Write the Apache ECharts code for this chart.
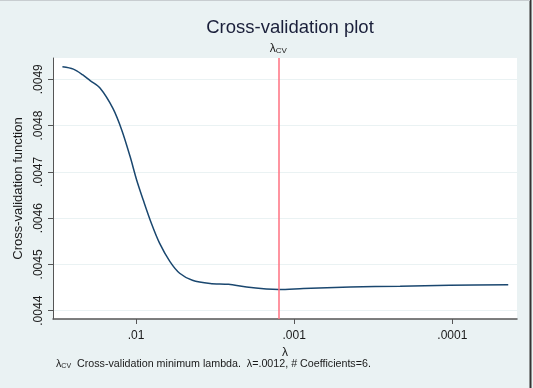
<!DOCTYPE html>
<html>
<head>
<meta charset="utf-8">
<script src="https://cdn.jsdelivr.net/npm/echarts@6/dist/echarts.min.js"></script>
<style>
  html, body { margin: 0; padding: 0; background: #eaf2f3; }
  #chart { width: 533px; height: 388px; }
</style>
</head>
<body>
<div id="chart"></div>
<script>
// lambda grid (decreasing) and the CV function
const lambdas = [0.0292, 0.0249, 0.0218, 0.0195, 0.0169, 0.0140, 0.0123, 0.0109, 0.0099,
  0.0090, 0.0080, 0.0071, 0.0061, 0.0053, 0.0044, 0.0034, 0.0026, 0.0020, 0.0015,
  0.00125, 0.000875, 0.000442, 0.000214, 0.000104, 0.0000443];
const cvValues = [0.004927, 0.004922, 0.004910, 0.004897, 0.004881, 0.004837, 0.004790,
  0.004733, 0.004682, 0.004639, 0.004589, 0.004546, 0.004506, 0.004481, 0.004466,
  0.004459, 0.004457, 0.004451, 0.004447, 0.004446, 0.004448, 0.004451, 0.004453,
  0.004455, 0.004456];
const lambdaCV = 0.00125;
const xTicks = [0.01, 0.001, 0.0001];
const yTicks = [0.0044, 0.0045, 0.0046, 0.0047, 0.0048, 0.0049];

const FONT = 'Liberation Sans, Arial, sans-serif';
const log10 = v => Math.log10(v);
const fmtLambda = v => {
  const s = Math.pow(10, v).toFixed(Math.round(-v));
  return s.replace(/^0/, '');
};

const chart = echarts.init(document.getElementById('chart'));
chart.setOption({
  backgroundColor: '#eaf2f3',
  animation: false,
  textStyle: { fontFamily: FONT },
  title: {
    text: 'Cross-validation plot',
    left: 285, top: 13, textAlign: 'center',
    textStyle: { fontSize: 18.5, fontWeight: 'normal', color: '#1a1f3a', fontFamily: FONT }
  },
  grid: {
    left: 53, top: 58, width: 464, height: 261,
    show: true, backgroundColor: '#ffffff', borderWidth: 0
  },
  xAxis: {
    type: 'value',
    inverse: true,
    min: -4.409, max: -1.475,
    name: 'λ', nameLocation: 'middle', nameGap: 22,
    nameTextStyle: { fontSize: 12, color: '#1a1a1a', fontFamily: FONT },
    axisLine: { lineStyle: { color: '#555', width: 1.5 } },
    axisTick: { show: true, length: 5, lineStyle: { color: '#555' }, customValues: xTicks.map(log10) },
    axisLabel: {
      customValues: xTicks.map(log10), margin: 11, fontSize: 12, color: '#1a1a1a',
      formatter: fmtLambda
    },
    splitLine: { show: false }
  },
  yAxis: {
    type: 'value',
    min: 0.0043821, max: 0.004946,
    name: 'Cross-validation function', nameLocation: 'middle', nameGap: 23,
    nameTextStyle: { fontSize: 13, color: '#1a1a1a', fontFamily: FONT },
    axisLine: { show: true, lineStyle: { color: '#555', width: 1 } },
    axisTick: { show: true, length: 5, lineStyle: { color: '#555' }, customValues: yTicks },
    axisLabel: {
      customValues: yTicks, rotate: 90, margin: 8, fontSize: 12, color: '#1a1a1a',
      formatter: v => v.toFixed(4).replace(/^0/, '')
    },
    splitLine: { show: true, lineStyle: { color: '#eaf2f3', width: 1 } }
  },
  series: [{
    type: 'line',
    data: lambdas.map((l, i) => [log10(l), cvValues[i]]),
    showSymbol: false,
    smooth: 0.3,
    lineStyle: { color: '#1a476f', width: 1.5 },
    markLine: {
      silent: true,
      symbol: 'none',
      lineStyle: { color: '#ff7080', width: 1.5, type: 'solid' },
      label: {
        position: 'end', distance: 3,
        formatter: '{l|λ}{s|CV}',
        rich: {
          l: { fontSize: 12, color: '#1a1a1a', fontFamily: FONT },
          s: { fontSize: 8, color: '#1a1a1a', fontFamily: FONT, verticalAlign: 'bottom', padding: [4, 0, 0, 0] }
        }
      },
      data: [{ xAxis: log10(lambdaCV) }]
    }
  }],
  graphic: [
    {
      type: 'text', left: 56, top: 359,
      style: {
        text: '{l|λ}{s|CV}  Cross-validation minimum lambda.  λ=.0012, # Coefficients=6.',
        fontSize: 10.7, fill: '#1a1a1a', fontFamily: FONT,
        rich: {
          l: { fontSize: 10.7, fontFamily: FONT },
          s: { fontSize: 7, fontFamily: FONT, verticalAlign: 'bottom', padding: [3, 0, 0, 0] }
        }
      }
    },
    { type: 'line', shape: { x1: 530.5, y1: 0, x2: 530.5, y2: 388 }, style: { stroke: '#333', lineWidth: 2 } },
    { type: 'line', shape: { x1: 0, y1: 0.5, x2: 530, y2: 0.5 }, style: { stroke: '#c8cdd0', lineWidth: 1 } }
  ]
});
</script>
</body>
</html>
